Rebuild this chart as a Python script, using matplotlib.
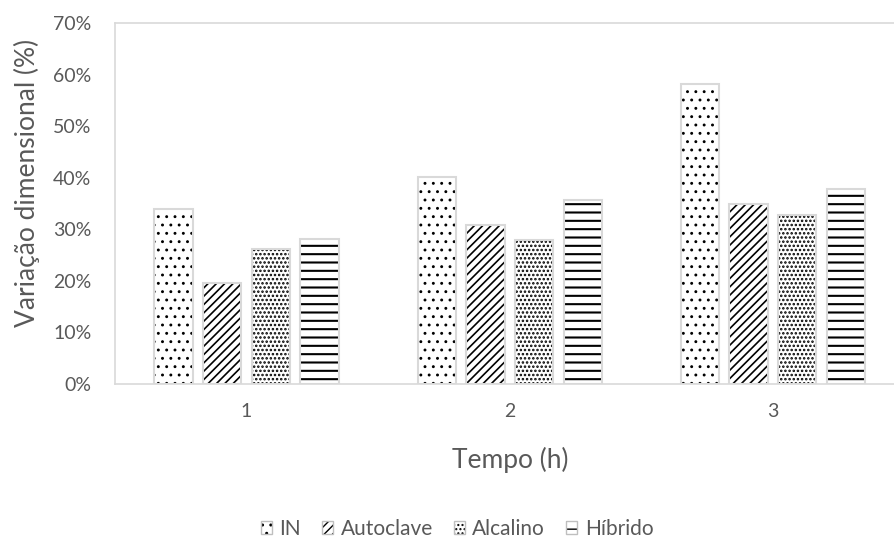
import matplotlib
matplotlib.use("Agg")
import matplotlib.pyplot as plt
from matplotlib.patches import Patch
from matplotlib.legend_handler import HandlerTuple
from matplotlib.ticker import FuncFormatter

# Dimensional change (%) per treatment after each soaking time
tempos = ["1", "2", "3"]
series_names = ["IN", "Autoclave", "Alcalino", "Híbrido"]
in_vals = [34.0, 40.2, 58.2]
autoclave_vals = [19.5, 30.8, 34.9]
alcalino_vals = [26.1, 28.0, 32.8]
hibrido_vals = [28.2, 35.6, 37.8]
y_ticks = [0, 10, 20, 30, 40, 50, 60, 70]

series_values = [in_vals, autoclave_vals, alcalino_vals, hibrido_vals]
hatches = ["..", "////", "....", "--"]
hatch_widths = [0.9, 1.2, 1.2, 1.5]

plt.rcParams["font.family"] = ["Lato", "DejaVu Sans"]

TEXT = "#595959"
BORDER = "#d9d9d9"

fig = plt.figure(figsize=(8.94, 5.40), dpi=100)
ax = fig.add_axes([115 / 894, 156 / 540, 789.5 / 894, 361 / 540])


def hatched(artist, lw):
    if hasattr(artist, "set_hatch_linewidth"):
        artist.set_hatch_linewidth(lw)


x = list(range(1, len(tempos) + 1))
step = 0.185
width = 0.146
handles = []
for i, (name, vals, h, hw) in enumerate(zip(series_names, series_values,
                                            hatches, hatch_widths)):
    pos = [xi + (i - 1.5) * step for xi in x]
    with plt.rc_context({"hatch.linewidth": hw}):
        bars = ax.bar(pos, vals, width, color="white", edgecolor="black",
                      linewidth=0, hatch=h, zorder=2)
        for b in bars:
            hatched(b, hw)
        hp = Patch(facecolor="white", edgecolor="black", linewidth=0, hatch=h)
        hatched(hp, hw)
    ax.bar(pos, vals, width, fill=False, edgecolor=BORDER, linewidth=1.5,
           zorder=3)
    bp = Patch(fill=False, edgecolor="#bfbfbf", linewidth=1.0)
    handles.append((hp, bp))

ax.set_xlim(0.5, 3.5)
ax.set_ylim(0, 70)
ax.set_xticks(x)
ax.set_xticklabels(tempos)
ax.set_yticks(y_ticks)
ax.yaxis.set_major_formatter(FuncFormatter(lambda v, _: f"{int(v)}%"))
ax.tick_params(axis="both", length=0, labelsize=14, labelcolor=TEXT)
ax.tick_params(axis="y", pad=17)
ax.tick_params(axis="x", pad=14)

for side in ["left", "top", "bottom", "right"]:
    ax.spines[side].set_color(BORDER)
    ax.spines[side].set_linewidth(1.2)

fig.text(27 / 894, 1 - 183 / 540, "Variação dimensional (%)", rotation=90,
         ha="center", va="center", fontsize=19, color=TEXT)
fig.text(510 / 894, 1 - 460 / 540, "Tempo (h)", ha="center", va="center",
         fontsize=19, color=TEXT)

fig.legend(handles, series_names, loc="center",
           bbox_to_anchor=(457 / 894, 1 - 529 / 540), ncol=4, frameon=False,
           fontsize=15, labelcolor=TEXT, handlelength=0.55, handleheight=0.55,
           handletextpad=0.35, columnspacing=1.0, borderpad=0,
           handler_map={tuple: HandlerTuple(ndivide=1, pad=0)})

fig.savefig("out.png", dpi=100)
